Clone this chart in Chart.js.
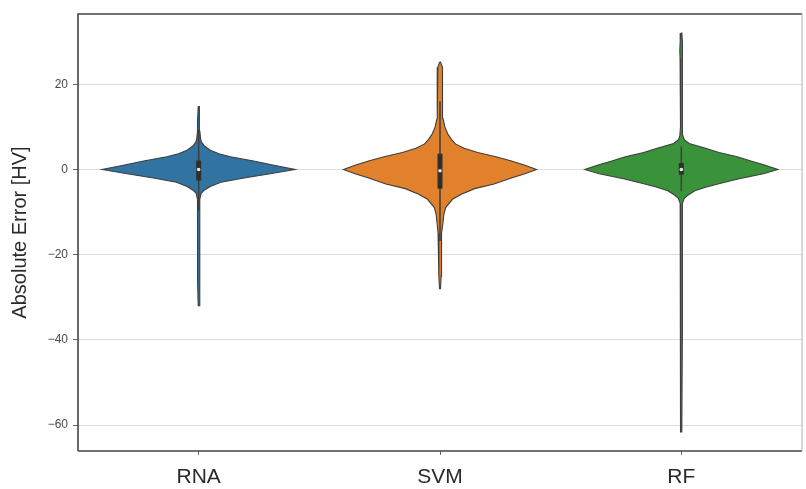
<!DOCTYPE html>
<html>
<head>
<meta charset="UTF-8">
<script src="https://cdn.jsdelivr.net/npm/chart.js@4.4.0/dist/chart.umd.min.js"></script>
<title>Absolute Error violins</title>
<style>
    html, body { margin: 0; padding: 0; background: #fff; }
    #wrap { width: 806px; height: 489px; }
</style>
</head>
<body>
<div id="wrap"><canvas id="violin-plot"></canvas></div>
<script>
// categories and tick values
const categories = ['RNA', 'SVM', 'RF'];
const yTicks = [-60, -40, -20, 0, 20];

// density profile of each violin (1 = widest)
const rnaLevels  = [14.8, 12, 9, 7.2, 6.4, 5.5, 4.5, 3.7, 3, 2, 1, 0, -1, -2, -3, -4, -5, -5.6, -7, -12, -20, -26, -32];
const rnaDensity = [0.005, 0.01, 0.012, 0.02, 0.03, 0.06, 0.12, 0.21, 0.33, 0.57, 0.78, 1.0, 0.74, 0.47, 0.23, 0.12, 0.05, 0.026, 0.012, 0.012, 0.012, 0.01, 0.005];

const svmLevels  = [25.2, 24, 20, 15, 12, 11.5, 10, 8.4, 7, 6, 5, 4, 3, 2, 1, 0, -1, -2, -3.4, -4.5, -5.8, -7, -8.9, -10.5, -12.7, -15, -20, -25, -28];
const svmDensity = [0.005, 0.022, 0.028, 0.028, 0.03, 0.036, 0.05, 0.08, 0.12, 0.16, 0.25, 0.39, 0.58, 0.74, 0.88, 1.0, 0.88, 0.74, 0.56, 0.36, 0.22, 0.13, 0.06, 0.04, 0.03, 0.02, 0.012, 0.012, 0.005];

const rfLevels  = [32, 30, 28, 26, 24, 20, 10, 8, 7, 6.1, 4.9, 4, 3, 2, 1, 0, -1, -2.2, -3, -4.1, -5, -6, -6.8, -8, -20, -40, -61.6];
const rfDensity = [0.005, 0.012, 0.016, 0.013, 0.01, 0.008, 0.008, 0.015, 0.03, 0.08, 0.26, 0.39, 0.58, 0.72, 0.87, 1.0, 0.85, 0.6, 0.45, 0.26, 0.14, 0.07, 0.03, 0.012, 0.01, 0.01, 0.005];

// inner box plot
const boxQ1       = [-2.6, -4.5, -1.2];
const boxQ3       = [2.1, 3.7, 1.5];
const medians     = [0, -0.3, 0];
const whiskerLow  = [-9.6, -16.8, -5.1];
const whiskerHigh = [9.2, 16, 5.4];

const fills   = ['#3274a1', '#e1812c', '#3a923a'];
const outline = '#3d3d3d';
const halfWidth = 0.4;   // widest half-width in category units

function violinPoints(i, levels, dens) {
    const left  = levels.map((y, k) => ({ x: i - dens[k] * halfWidth, y: y }));
    const right = levels.map((y, k) => ({ x: i + dens[k] * halfWidth, y: y })).reverse();
    return left.concat(right, [left[0]]);
}

const profiles = [[rnaLevels, rnaDensity], [svmLevels, svmDensity], [rfLevels, rfDensity]];
const datasets = [];

profiles.forEach((p, i) => {
    datasets.push({
        data: violinPoints(i, p[0], p[1]),
        showLine: true,
        fill: 'shape',
        backgroundColor: fills[i],
        borderColor: outline,
        borderWidth: 1.1,
        pointRadius: 0,
        tension: 0,
        order: 3
    });
    // whisker
    datasets.push({
        data: [{ x: i, y: whiskerLow[i] }, { x: i, y: whiskerHigh[i] }],
        showLine: true,
        borderColor: outline,
        borderWidth: 1.5,
        pointRadius: 0,
        order: 2
    });
    // box
    datasets.push({
        data: [{ x: i, y: boxQ1[i] }, { x: i, y: boxQ3[i] }],
        showLine: true,
        borderColor: '#2e2e2e',
        borderWidth: 5,
        borderCapStyle: 'butt',
        pointRadius: 0,
        order: 1
    });
    // median
    datasets.push({
        data: [{ x: i, y: medians[i] }],
        pointRadius: 1.8,
        pointBackgroundColor: '#e8e8e8',
        pointBorderWidth: 0,
        order: 0
    });
});

// frame round the plot area (matplotlib spines)
const framePlugin = {
    id: 'frame',
    afterDraw(chart) {
        const a = chart.chartArea, ctx = chart.ctx;
        ctx.save();
        ctx.lineWidth = 1.6;
        ctx.strokeStyle = '#444';
        ctx.beginPath();
        ctx.moveTo(a.left, a.bottom);
        ctx.lineTo(a.left, a.top);
        ctx.lineTo(a.right, a.top);
        ctx.moveTo(a.left, a.bottom);
        ctx.lineTo(a.right, a.bottom);
        ctx.stroke();
        ctx.strokeStyle = '#b0b0b0';
        ctx.lineWidth = 1;
        ctx.beginPath();
        ctx.moveTo(a.right, a.top);
        ctx.lineTo(a.right, a.bottom);
        ctx.stroke();
        ctx.restore();
    }
};

new Chart(document.getElementById('violin-plot'), {
    type: 'scatter',
    data: { datasets: datasets },
    plugins: [framePlugin],
    options: {
        responsive: true,
        maintainAspectRatio: false,
        animation: false,
        layout: { padding: { top: 14, right: 3, left: 0, bottom: 0 } },
        plugins: { legend: { display: false }, tooltip: { enabled: false } },
        scales: {
            x: {
                type: 'linear',
                min: -0.5,
                max: 2.5,
                afterBuildTicks: s => { s.ticks = categories.map((c, i) => ({ value: i })); },
                afterFit: s => { s.height = 38; },
                grid: { drawOnChartArea: false, drawTicks: true, tickLength: 4, tickColor: '#666' },
                border: { display: false },
                ticks: {
                    callback: v => categories[v],
                    color: '#2a2a2a',
                    padding: 10,
                    maxRotation: 0,
                    font: { family: 'Liberation Sans, Arial', size: 21 }
                }
            },
            y: {
                min: -66.1,
                max: 36.5,
                z: 1,
                afterBuildTicks: s => { s.ticks = yTicks.map(v => ({ value: v })); },
                afterFit: s => { s.width = 78; },
                grid: { color: '#dcdcdc', lineWidth: 1, tickLength: 5, tickColor: '#666' },
                border: { display: false },
                ticks: {
                    callback: v => (v < 0 ? '\u2212' + Math.abs(v) : String(v)),
                    color: '#4a4a4a',
                    padding: 5,
                    font: { family: 'Liberation Sans, Arial', size: 12 }
                },
                title: {
                    display: true,
                    text: 'Absolute Error [HV]',
                    color: '#2a2a2a',
                    padding: { top: 8, bottom: 0 },
                    font: { family: 'Liberation Sans, Arial', size: 20 }
                }
            }
        }
    }
});
</script>
</body>
</html>
